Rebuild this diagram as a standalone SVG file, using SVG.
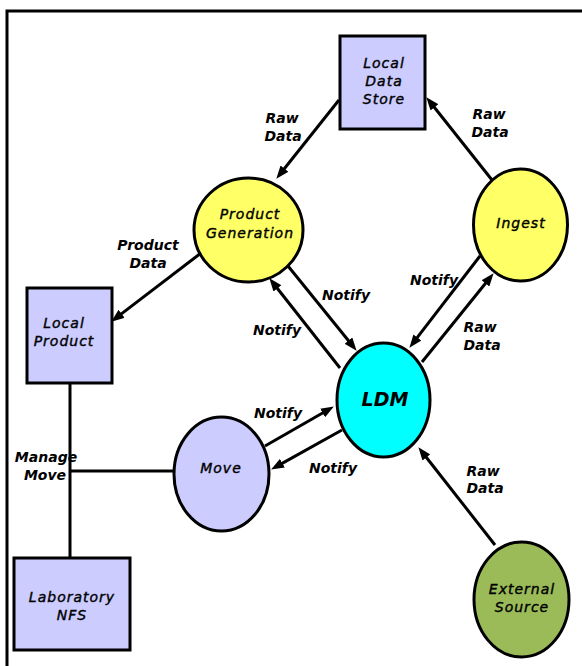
<svg xmlns="http://www.w3.org/2000/svg" width="582" height="666" viewBox="0 0 582 666">
<style>
.box{fill:#ccccff;stroke:#000;stroke-width:3}
.ell{stroke:#000;stroke-width:3}
.yel{fill:#ffff66}
.nl{font-family:"DejaVu Sans",sans-serif;font-style:italic;font-size:14px;letter-spacing:1px;text-anchor:middle;fill:#000;stroke:#000;stroke-width:0.4px}
.el{font-family:"DejaVu Sans",sans-serif;font-style:italic;font-weight:bold;font-size:14px;text-anchor:middle;fill:#000}
.ln{stroke:#000;stroke-width:3;fill:none}
.ar{marker-end:url(#ah)}
</style>
<defs>
<marker id="ah" viewBox="0 0 13 10" refX="6" refY="5" markerWidth="13" markerHeight="10" markerUnits="userSpaceOnUse" orient="auto">
<path d="M0,0 L13,5 L0,10 z" fill="#000"/>
</marker>
</defs>
<rect width="582" height="666" fill="#fff"/>
<g id="frame"><path class="ln" d="M7,666 V11 H582"/></g>
<g id="local-data-store"><rect class="box" x="340" y="36" width="85" height="93"/>
<text class="nl" x="384" y="68">Local</text><text class="nl" x="384" y="86">Data</text><text class="nl" x="384" y="104">Store</text></g>
<g id="product-generation"><ellipse class="ell yel" cx="248.5" cy="230" rx="54.5" ry="52"/>
<text class="nl" x="250" y="219">Product</text><text class="nl" x="250" y="238">Generation</text></g>
<g id="ingest"><ellipse class="ell yel" cx="520.5" cy="225" rx="47" ry="56"/>
<text class="nl" x="521" y="228">Ingest</text></g>
<g id="ldm"><ellipse class="ell" fill="#00ffff" cx="383.5" cy="400" rx="46.5" ry="57"/>
<text class="el" style="font-size:19px" x="385" y="406">LDM</text></g>
<g id="move"><ellipse class="ell" fill="#ccccff" cx="221.5" cy="474" rx="47.5" ry="57"/>
<text class="nl" x="221" y="473">Move</text></g>
<g id="external-source"><ellipse class="ell" fill="#9bbb59" cx="521.5" cy="599.5" rx="47.5" ry="57.5"/>
<text class="nl" x="522" y="594">External</text><text class="nl" x="522" y="612">Source</text></g>
<g id="local-product"><rect class="box" x="27" y="288" width="85" height="95"/>
<text class="nl" x="64" y="328">Local</text><text class="nl" x="64" y="346">Product</text></g>
<g id="laboratory-nfs"><rect class="box" x="14" y="558" width="116" height="92"/>
<text class="nl" x="72" y="602">Laboratory</text><text class="nl" x="72" y="620">NFS</text></g>
<g id="connectors">
<path class="ln ar" d="M339,100 L280.7,173.3"/>
<path class="ln ar" d="M492,180 L430.7,102.7"/>
<path class="ln ar" d="M201,253 L116.8,317.4"/>
<path class="ln ar" d="M288,266 L352.2,345.3"/>
<path class="ln ar" d="M340,368 L273.7,283.7"/>
<path class="ln ar" d="M480,256 L413.7,342.2"/>
<path class="ln ar" d="M422,362 L489.2,278.7"/>
<path class="ln ar" d="M265,446 L327.8,410"/>
<path class="ln ar" d="M342,430 L277.2,466.1"/>
<path class="ln ar" d="M495,545 L422.7,452.7"/>
<path class="ln" d="M70,383 V558"/>
<path class="ln" d="M70,471 H174"/>
<text class="el" x="282" y="123">Raw</text><text class="el" x="283" y="141">Data</text>
<text class="el" x="489" y="119">Raw</text><text class="el" x="490" y="137">Data</text>
<text class="el" x="148" y="250">Product</text><text class="el" x="148" y="268">Data</text>
<text class="el" x="346" y="300">Notify</text>
<text class="el" x="277" y="335">Notify</text>
<text class="el" x="434" y="285">Notify</text>
<text class="el" x="480" y="332">Raw</text><text class="el" x="482" y="350">Data</text>
<text class="el" x="278" y="418">Notify</text>
<text class="el" x="333" y="473">Notify</text>
<text class="el" x="483" y="476">Raw</text><text class="el" x="485" y="493">Data</text>
<text class="el" x="46" y="462">Manage</text><text class="el" x="45" y="480">Move</text>
</g>
</svg>
